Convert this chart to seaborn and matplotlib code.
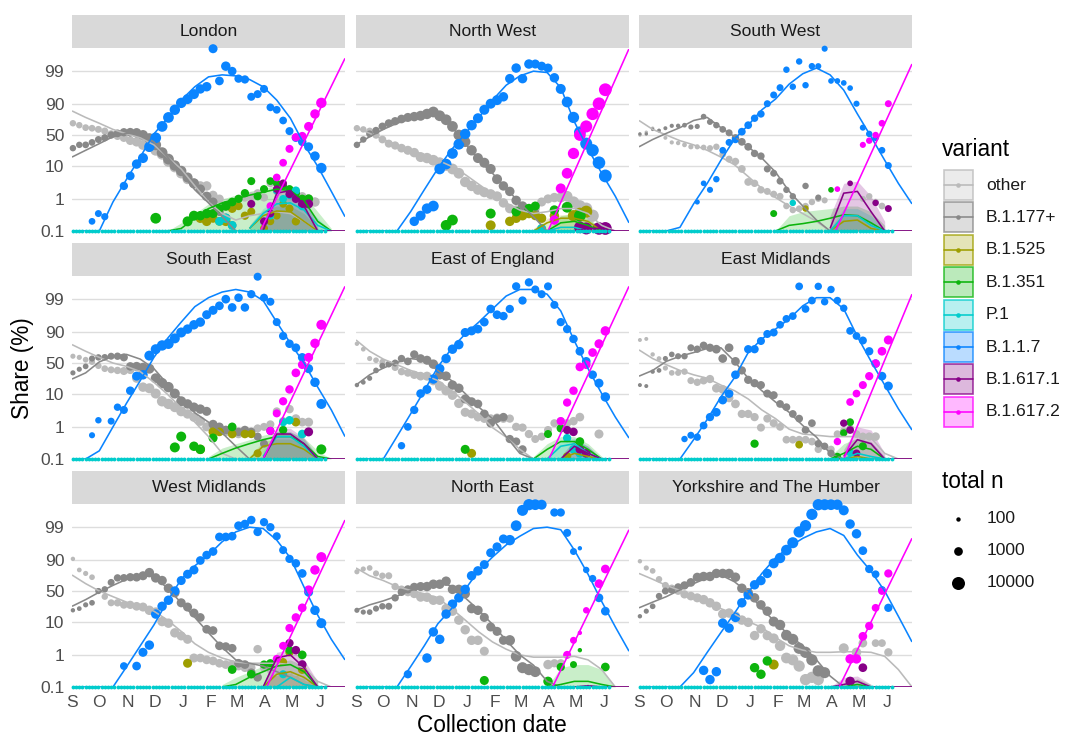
import numpy as np
import pandas as pd
import matplotlib
matplotlib.use("Agg")
import matplotlib.pyplot as plt
from matplotlib.patches import Rectangle
from matplotlib.ticker import NullLocator
import seaborn as sns

sns.set_theme(style="white")
plt.rcParams["font.family"] = ["Liberation Sans", "DejaVu Sans"]

# ---------------- categories / axes ----------------
REGIONS = ["London", "North West", "South West", "South East", "East of England",
           "East Midlands", "West Midlands", "North East", "Yorkshire and The Humber"]
VARIANTS = ["other", "B.1.177+", "B.1.525", "B.1.351", "P.1", "B.1.1.7", "B.1.617.1", "B.1.617.2"]
COLORS = {"other": "#BABABA", "B.1.177+": "#888888", "B.1.525": "#9E9E00", "B.1.351": "#0CB40C",
          "P.1": "#00CCCC", "B.1.1.7": "#0A84FF", "B.1.617.1": "#870087", "B.1.617.2": "#FF00FF"}
MONTH_TICKS = pd.date_range("2020-09-01", "2021-06-01", freq="MS")
MONTH_LABELS = ["S", "O", "N", "D", "J", "F", "M", "A", "M", "J"]
Y_TICKS = [0.1, 1, 10, 50, 90, 99]
Y_LABELS = ["0.1", "1", "10", "50", "90", "99"]
WEEKS = pd.date_range("2020-09-02", periods=40, freq="7D")      # observation weeks
KNOTS = pd.date_range("2020-09-01", periods=21, freq="15D")     # fit curve knots
ZERO_DAYS = pd.date_range("2020-09-02", "2021-06-06", freq="84h")  # zero-count observations
SIZE_BREAKS = [100, 1000, 10000]
N = None

# ---------------- total n per week ----------------
TOTAL_N = {
 "London": [300,300,350,350,400,450,500,600,800,1000, 1500,2000,2500,3000,3000,3000,2500,2500,2000,2000,
            1500,1500,1200,1000,1500,1000,800,800,700,700, 700,600,600,600,700,800,900,1200,1500,2500],
 "North West": [300,300,400,500,600,700,800,1000,1200,1500, 2000,2500,3000,3000,3000,3000,3000,2500,2500,2000,
                2000,2000,2000,1500,1500,1500,1500,1500,1200,1200, 1200,1500,2000,3000,4000,5000,6000,7000,8000,9000],
 "South West": [60,60,60,70,80,90,100,120,150,150, 200,250,300,350,400,500,600,600,500,500,
                400,400,400,300,300,300,300,300,250,250, 200,200,200,200,250,250,300,300,350,400],
 "South East": [150,150,200,250,300,350,400,500,700,900, 1200,1500,2000,2000,2500,2500,2000,2000,1500,1500,
                1500,1200,1200,1000,1000,1000,900,900,800,700, 700,700,700,800,900,1000,1000,1200,1500,2000],
 "East of England": [100,120,150,200,250,300,400,500,600,800, 1000,1200,1500,1500,1500,1500,1500,1200,1200,1000,
                     1000,1000,1000,900,800,800,800,800,700,700, 700,700,800,800,900,1000,1000,1000,1200,1500],
 "East Midlands": [80,80,100,120,150,200,250,300,400,500, 600,800,1000,1000,1000,1000,800,800,800,700,
                   700,700,600,600,600,600,600,600,500,500, 500,500,500,600,600,700,800,900,1000,1200],
 "West Midlands": [100,120,150,200,250,300,400,500,600,800, 1000,1200,1500,1500,1500,1500,1500,1200,1200,1200,
                   1000,1000,1000,1000,1000,1000,1000,1000,900,900, 800,800,700,700,800,900,1000,1200,1500,2000],
 "North East": [150,150,200,250,300,400,500,600,800,1000, 1200,1500,1500,1500,1500,1500,1500,1500,1500,1500,
                1200,1200,1200,1200,2500,3000,3500,4000,3000,2000, 1500,800,800,700,400,100,300,500,1000,1000],
 "Yorkshire and The Humber": [100,150,200,300,400,500,600,800,1000,1200, 1500,1500,1500,1500,1500,1500,1500,1500,1500,1500,
                              1500,2000,2500,3000,3500,4000,4000,4000,4000,3500, 3000,2500,2000,1500,1500,1000,800,600,600,800],
}

# ---------------- observed shares (%) per week ----------------
PTS_OTHER = {
 "London": [70,67,63,62,60,57,52,48,45,40, 38,33,30,25,20,13,9,6,4,3, 2.5,2.5,1.3,1.0,0.6,0.7,1.0,1.1,1.2,1.5, 1.1,3,1.7,1.5,1.3,1.0,1.2,1.0,0.8,N],
 "North West": [62,60,57,50,42,35,32,28,25,22, 17,16,14,12,10,8,6,3.3,2.5,1.9, 1.6,1.4,1.2,0.75,0.5,0.45,0.45,0.5,0.5,0.8, 1.0,1.1,1.1,1.2,0.8,0.6,0.5,0.3,N,N],
 "South West": [50,55,62,58,45,37,36,33,30,30, 29,28,30,20,15,13,8,3.3,3,1.9, 1.7,1.4,1.2,0.6,0.45,0.5,0.6,0.8,1.0,0.9, N,N,N,N,N,1.0,1.2,0.8,0.6,N],
 "South East": [62,60,56,52,45,40,38,37,36,38, 25,15,14,10,6,5,4,3,2.5,2, 1.5,1.0,1.0,0.8,0.7,0.7,0.6,0.7,0.7,0.9, 1.0,1.2,3,1.5,3.5,1.8,1.4,1.4,N,N],
 "East of England": [80,73,58,55,52,48,42,35,33,30, 28,28,22,16,12,9,5.2,2.8,2.5,2.0, 1.8,1.8,1.9,1.8,1.8,1.0,0.95,0.6,0.42,0.5, 0.8,1.3,1.5,1.3,1.5,2.0,N,N,0.6,N],
 "East Midlands": [84,85,65,58,41,33,33,35,22,20, 22,24,14,13,7.5,5,2.5,2.5,2,0.95, 1.8,1.3,1.0,0.4,0.4,0.4,0.4,0.35,0.2,N, 0.2,0.6,0.75,0.9,0.6,0.5,0.5,0.5,N,N],
 "West Midlands": [91,82,78,73,50,40,30,30,27,27, 25,24,20,18,10,9,4.7,3.8,3,0.8, 0.8,0.7,0.65,0.55,0.5,0.5,0.45,0.4,0.4,1.5, 0.4,0.35,0.3,0.3,0.35,0.3,0.25,0.2,N,N],
 "North East": [80,83,84,78,75,75,58,53,48,45, 39,39,34,34,22,19,11,5.8,2.8,2.8, 1.3,N,N,N,N,N,N,N,N,N, 0.5,0.55,0.55,N,N,N,N,N,N,N],
 "Yorkshire and The Humber": [89.5,84,81,70,60,55,50,44,41,38, 35,30,25,16,17,14,11,9.5,3.9,6.2, 3.9,3.2,1.9,0.8,0.7,0.45,0.17,0.2,0.17,N, N,N,1.6,N,1.2,2.3,N,2.3,2.3,1.2],
}
PTS_B1177 = {
 "London": [28,33,33,37,42,45,50,53,55,55, 54,50,44,33,22,15,10,7,4.5,3, 2,1.2,0.8,0.4,0.25,0.15,N,N,N,N, N,N,N,N,N,N,N,N,N,N],
 "North West": [33,42,52,58,65,70,73,76,78,79, 80,82,84,80,75,65,50,38,25,16, 12,8,4,2.5,1.7,0.9,0.6,0.45,0.35,0.25, N,N,N,N,N,N,N,N,N,N],
 "South West": [52,52,60,58,62,66,66,67,64,65, 79,72,67,60,54,45,38,30,21,18, 8,6,3.5,1.9,1.2,N,2.5,N,1.1,N, N,N,N,N,N,N,N,N,N,N],
 "South East": [33,39,44,58,60,60,62,62,60,44, 44,42,40,25,19,15,10,6,5,4, 3.5,3,1.2,1.0,0.8,0.8,0.7,0.8,0.7,0.5, 0.3,N,N,N,N,N,N,N,N,N],
 "East of England": [17,20,25,37,45,48,50,58,53,65, 58,55,48,30,28,17,14,7,5.8,5, 2.5,1.3,1.8,2,0.42,0.35,0.2,N,N,N, N,N,N,N,N,N,N,N,N,N],
 "East Midlands": [17,16,35,37,58,65,62,62,75,73, 78,75,73,58,75,53,37,23,19,17, 10,9,5,4,2.5,1.8,0.8,1.3,0.3,0.25, 0.15,N,N,N,N,N,N,N,N,N],
 "West Midlands": [20,22,27,30,50,53,65,72,72,73, 73,75,79,72,68,55,47,30,24,17, 13,6,5.5,1.9,1.8,1.6,0.55,0.5,0.28,0.2, N,N,N,N,N,N,N,N,N,N],
 "North East": [20,18,18,22,25,25,38,48,53,57, 58,58,62,62,67,53,53,45,22,20, 13,7,5.2,2.8,2.8,0.9,0.4,0.35,0.3,N, N,N,N,N,N,N,N,N,N,N],
 "Yorkshire and The Humber": [14,19,25,41,50,52,57,60,65,73, 74,74,78,78,78,73,55,47,38,27, 19,10,8,4,3,1.6,1.2,0.7,0.32,0.28, N,N,N,N,N,N,N,N,N,N],
}
PTS_B117 = {
 "London": [N,N,N,0.2,0.35,0.28,N,N,2.5,5, 11,16,30,45,65,78,86,91,93,95, 96.5,97,99.85,98,99.3,99,98.3,98.2,94,95, 96.5,88,86,74,57,45,38,30,18,8.5],
 "North West": [N,N,N,N,N,N,N,N,N,0.2, 0.3,0.5,0.6,8,11,21,34,52,67,77, 86,90.5,92.5,94,98.3,99.2,98.3,99.4,99.4,99.3, 99.2,98.4,96.5,91.5,78,55,35,25,12,5],
 "South West": [N,N,N,N,N,N,N,N,N,0.8, 3,1.9,4,25,37,42,56,67,77,82, 90.5,94.7,96.8,99.1,97,99.5,97.3,99.3,99.3,99.85, 98,98,97.7,96.7,90.5,63,52,45,25,10],
 "South East": [N,N,N,0.55,1.6,N,1.5,4,3.3,12, 28,30,63,73,78,80,85.5,90,92,94, 95,97,97.8,98.4,99,98.2,99.1,98.2,99.3,99.85, 99.1,98.8,95,87.5,80,75,60,40,20,5],
 "East of England": [N,N,N,N,N,N,N,0.26,1.0,3.3, 10,13,24,40,58,73,79,90,91,92, 95,98,97,96.7,98,99.6,98.9,99.7,99.5,99.3, 99.6,98.5,95,92,85,70,53,30,19,8],
 "East Midlands": [N,N,N,N,N,N,N,0.42,0.55,0.48, 1.1,2,2.8,6.5,10,30,N,73,73,83, 89,90,94,96,96.7,99.6,98,98.9,99.6,98.8, 99.5,98.9,98.1,91,87.5,83.5,70,49,28,16],
 "West Midlands": [N,N,N,N,N,N,N,N,0.45,N, 0.45,1.2,2,16,25,34,50,68,77,82, 90,93,94.5,98,98,98.1,99.1,99.2,99.4,98.6, 99.3,99,98.1,95,91,88,78,48,20,9],
 "North East": [N,N,N,N,N,N,N,N,0.25,N, N,0.8,5,3,16,28,38,53,75,81, 87,94,96,97.7,97.5,99.1,99.7,99.85,99.85,99.85, N,99.65,99.65,98.5,94.5,95.6,82,71,38,19],
 "Yorkshire and The Humber": [N,N,N,N,N,N,N,N,N,N, 0.33,0.17,0.3,9,6.5,13,30,43,61,68, 78,88,91.5,95,97,98.6,99.1,99.6,99.85,99.85, 99.85,99.85,99.7,99.2,98.4,94.8,83,77,52,23],
}
# sparse observations {week index: share %}
PTS_B6172 = {
 "London": {31: 0.6, 32: 4.5, 33: 12, 34: 27, 35: 46, 36: 48, 37: 65, 38: 82, 39: 91},
 "North West": {31: 0.22, 32: 2.1, 33: 6, 34: 21, 35: 50, 36: 65, 37: 82, 38: 90.5, 39: 96.3},
 "South West": {31: 2, 35: 33, 36: 40, 37: 50, 38: 70, 39: 90.5},
 "South East": {31: 0.75, 32: 2.6, 33: 6, 34: 13, 35: 33, 36: 47, 37: 60, 38: 80.5, 39: 94},
 "East of England": {32: 1.5, 33: 5.5, 34: 12, 35: 43, 36: 47, 37: 68, 38: 80, 39: 91},
 "East Midlands": {31: 0.35, 33: 5.7, 34: 10, 35: 17, 36: 28, 37: 49, 38: 70, 39: 84},
 "West Midlands": {32: 0.75, 33: 1.9, 34: 6.5, 35: 13, 36: 23, 37: 52, 38: 82, 39: 92},
 "North East": {33: 1.0, 34: 2.8, 35: 4.7, 36: 20, 38: 63, 39: 83},
 "Yorkshire and The Humber": {33: 0.75, 34: 0.75, 35: 3.7, 36: 7.5, 37: 23, 38: 50, 39: 78},
}
PTS_MINOR = {
 "London": {"B.1.525": {20:0.25, 21:0.2, 22:0.25, 23:0.2, 24:0.2, 25:0.5, 26:0.6, 27:0.3, 28:0.4, 30:0.12, 31:0.2, 32:0.3, 33:0.7, 34:0.5, 35:0.2},
            "B.1.351": {13:0.25, 18:0.2, 19:0.3, 20:0.3, 21:0.35, 22:0.35, 23:0.5, 24:0.6, 25:0.8, 26:1.0, 27:1.5, 28:3.5, 29:1.2, 30:2, 31:3.5, 32:3, 33:2.5, 34:2, 35:1.5, 36:1.0, 37:1.0},
            "P.1": {23:0.2, 24:0.25, 25:0.15, 31:0.3, 32:1.8, 33:1.0, 34:1.3, 35:1.8, 36:0.6},
            "B.1.617.1": {28:0.7, 30:0.2, 31:0.35, 32:2, 33:3, 34:1.4, 35:1.0, 36:0.7, 37:0.7}},
 "North West": {"B.1.525": {21:0.15, 24:0.2, 25:0.25, 26:0.3, 27:0.35, 28:0.3, 29:0.25, 31:0.3, 34:0.3, 35:0.35, 36:0.4},
                "B.1.351": {14:0.15, 15:0.22, 21:0.35, 25:0.4, 27:0.5, 28:0.6, 31:0.45, 33:0.55, 35:0.3},
                "P.1": {29:0.12},
                "B.1.617.1": {35:0.13, 36:0.12, 38:0.12, 39:0.12}},
 "South West": {"B.1.525": {26:0.5}, "B.1.351": {21:0.35, 30:1.9}, "P.1": {24:0.75},
                "B.1.617.1": {33:3, 37:0.75, 39:0.5}},
 "South East": {"B.1.525": {20:0.2, 22:0.7, 23:0.7, 25:0.6, 27:0.6, 28:0.6, 29:0.15, 35:1.4},
                "B.1.351": {16:0.23, 17:0.5, 19:0.25, 20:0.2, 22:0.45, 25:1.0, 33:0.8, 39:0.2},
                "P.1": {33:1.4, 34:1.6, 36:0.6},
                "B.1.617.1": {31:0.75, 37:0.7}},
 "East of England": {"B.1.525": {18:0.15, 33:0.12}, "B.1.351": {17:0.2, 30:0.6, 32:0.9, 35:0.35},
                     "P.1": {33:0.45, 34:0.2, 35:0.15, 36:0.15},
                     "B.1.617.1": {33:0.8, 34:0.7, 35:0.2, 36:0.15}},
 "East Midlands": {"B.1.525": {25:0.28}, "B.1.351": {18:0.3, 31:0.12, 32:0.65, 33:1.4, 35:0.25},
                   "P.1": {33:0.16}, "B.1.617.1": {32:1.3, 33:0.8, 34:0.15}},
 "West Midlands": {"B.1.525": {18:0.55, 33:0.6, 34:1.2, 36:0.35},
                   "B.1.351": {25:0.35, 28:0.25, 30:0.5, 31:0.55, 34:1.4, 36:1.0},
                   "P.1": {33:0.25}, "B.1.617.1": {34:2.3, 35:1.4, 36:0.5}},
 "North East": {"B.1.351": {20:0.16, 30:0.15, 32:0.42, 34:0.5, 35:1.4, 39:0.42}},
 "Yorkshire and The Humber": {"B.1.525": {21:0.5}, "B.1.351": {18:0.4, 19:0.25, 20:0.65},
                              "B.1.617.1": {33:0.15, 35:0.4}},
}

# ---------------- fitted shares (%) at the 21 knots ----------------
FIT_OTHER = {
 "London": [85,78,70,60,52,45,33,17,8,2.5,0.8,0.35,0.22,0.3,0.35,0.4,0.35,0.2,0.1,0.1,0.1],
 "North West": [63,53,42,33,25,19.5,14,9.5,5.5,2.8,1.4,0.75,0.45,0.35,0.4,0.5,0.5,0.35,0.15,0.1,0.1],
 "South West": [74,60,50,40,33,25,17,10.5,4.8,2.1,1.1,0.6,0.35,0.2,0.1,0.1,0.1,0.1,0.1,0.1,0.1],
 "South East": [79,70,60,50,44,35,20,9.5,3.8,1.4,0.5,0.15,0.1,0.1,0.1,0.1,0.1,0.1,0.1,0.1,0.1],
 "East of England": [84,70,57,47,37,30,22,12,5.7,2.5,0.95,0.48,0.2,0.1,0.1,0.1,0.1,0.1,0.1,0.1,0.1],
 "East Midlands": [72,58,47,37,30,25,17,12,7,3.3,1.8,0.85,0.6,0.55,0.5,0.5,0.5,0.45,0.15,0.1,0.1],
 "West Midlands": [76,63,50,40,31,25,19,11,5.2,2.2,1.2,0.8,0.6,0.55,0.55,0.55,0.5,0.4,0.15,0.1,0.1],
 "North East": [84,75,68,58,51,45,38,22,11,5,2.5,1.5,1.0,0.85,0.85,0.85,0.9,0.7,0.35,0.1,0.1],
 "Yorkshire and The Humber": [78,70,60,51,41,31,22,16,10,6.8,3.4,1.9,1.4,1.2,1.2,1.25,1.25,1.2,0.9,0.35,0.1],
}
FIT_B1177 = {
 "London": [17,25,35,47,53,53,38,17,6,1.9,0.75,0.28,0.1,0.1,0.1,0.1,0.1,0.1,0.1,0.1,0.1],
 "North West": [33,47,60,70,76,80,82,65,35,14,6,2.1,0.75,0.28,0.1,0.1,0.1,0.1,0.1,0.1,0.1],
 "South West": [30,42,53,63,74,78,63,47,30,16,6.5,1.7,0.6,0.22,0.1,0.1,0.1,0.1,0.1,0.1,0.1],
 "South East": [24,33,52,62,65,57,40,18,7,2.7,1.4,0.65,0.25,0.1,0.1,0.1,0.1,0.1,0.1,0.1,0.1],
 "East of England": [17,30,41,51,58,55,37,22,10,4,1.8,0.5,0.15,0.1,0.1,0.1,0.1,0.1,0.1,0.1,0.1],
 "East Midlands": [28,37,53,62,68,74,75,53,25,12,5.7,2.8,1.1,0.48,0.15,0.1,0.1,0.1,0.1,0.1,0.1],
 "West Midlands": [25,35,48,60,70,75,74,55,30,13,4.7,1.7,0.7,0.55,0.45,0.3,0.2,0.12,0.1,0.1,0.1],
 "North East": [20,27,33,41,51,57,65,59,38,20,8.3,2.8,1.0,0.48,0.15,0.1,0.1,0.1,0.1,0.1,0.1],
 "Yorkshire and The Humber": [23,31,40,52,63,72,76,66,47,22,9.5,4,1.9,0.7,0.22,0.1,0.1,0.1,0.1,0.1,0.1],
}
FIT_B117 = {
 "London": [0.1,0.1,0.1,0.8,4,17,52,77,92.5,97,98.5,98.7,98.6,98.2,97,92.5,77,34,9.5,1.7,0.28],
 "North West": [0.1,0.1,0.1,0.1,0.4,1.9,8.3,26,52,78,92.5,97.3,98.6,99,98.9,96.8,72,27,6,1.2,0.18],
 "South West": [0.1,0.1,0.1,0.13,0.7,3,14,43,67,86,93,97.5,98.8,99.2,98.7,96.2,82,47,14,3,0.7],
 "South East": [0.1,0.1,0.18,1,5.3,22,60,85.5,95,98.3,99.1,99.4,99.5,99.4,98.9,95,80.5,50,15,3.3,0.5],
 "East of England": [0.1,0.1,0.1,0.5,2.5,12,43,74,89,95,98,99.2,99.5,99.5,99.3,97.7,83,40,10,2,0.45],
 "East Midlands": [0.1,0.1,0.1,0.1,0.4,1.7,8,26,68,85,92,96,98.4,99.1,99.1,98,87,53,17,3.6,0.8],
 "West Midlands": [0.1,0.1,0.1,0.1,0.43,1.9,8,33,70,86,93,97.2,98.6,99,98.9,97.5,91.5,57,15,3,0.7],
 "North East": [0.1,0.1,0.1,0.1,0.43,1.9,8.7,22,53,81.5,92,96.5,98.1,98.9,99,98.8,95,77,32,7,1.3],
 "Yorkshire and The Humber": [0.1,0.1,0.1,0.1,0.28,1.2,4.8,17,47,78,91.5,96,97.8,98.6,98.9,98.2,93,80.5,50,14,2.5],
}
# B.1.617.2 fit: (date where it leaves 0.1 %, share % at right edge)
FIT_B6172 = {
 "London": ("2021-03-27", 99.6), "North West": ("2021-03-31", 99.8),
 "South West": ("2021-04-05", 99.4), "South East": ("2021-03-30", 99.6),
 "East of England": ("2021-04-01", 99.6), "East Midlands": ("2021-04-14", 99.3),
 "West Midlands": ("2021-04-03", 99.4), "North East": ("2021-04-05", 98.8),
 "Yorkshire and The Humber": ("2021-04-09", 97.8),
}
# minor variant fits {knot index: share %} and upper CI bounds
FIT_MINOR = {
 "London": {"B.1.525": {13:0.12, 14:0.3, 15:0.42, 16:0.4, 17:0.2, 18:0.1},
            "B.1.351": {7:0.1, 8:0.12, 9:0.25, 10:0.5, 11:0.75, 12:1.0, 13:1.3, 14:1.6, 15:2.0, 16:1.8, 17:0.9, 18:0.2, 19:0.1},
            "P.1": {13:0.12, 14:0.35, 15:0.7, 16:0.75, 17:0.45, 18:0.15, 19:0.1},
            "B.1.617.1": {14:0.1, 15:1.5, 16:1.8, 17:0.6, 18:0.1, 19:0.1, 20:0.1}},
 "North West": {"B.1.525": {13:0.1, 14:0.18, 15:0.25, 16:0.25, 17:0.2, 18:0.1},
                "B.1.351": {14:0.1, 15:0.18, 16:0.2, 17:0.15, 18:0.1},
                "P.1": {14:0.1, 15:0.13, 16:0.13, 17:0.1},
                "B.1.617.1": {16:0.1, 17:0.12, 18:0.12, 19:0.1, 20:0.1}},
 "South West": {"B.1.525": {14:0.1, 15:0.2, 16:0.22, 17:0.12, 18:0.1},
                "B.1.351": {10:0.1, 11:0.15, 12:0.17, 13:0.2, 14:0.25, 15:0.32, 16:0.3, 17:0.18, 18:0.1},
                "P.1": {14:0.1, 15:0.3, 16:0.3, 17:0.15, 18:0.1},
                "B.1.617.1": {14:0.12, 15:1.5, 16:1.7, 17:0.4, 18:0.1, 19:0.1, 20:0.1}},
 "South East": {"B.1.525": {13:0.1, 14:0.25, 15:0.3, 16:0.3, 17:0.2, 18:0.1},
                "B.1.351": {10:0.1, 11:0.15, 12:0.22, 13:0.3, 14:0.4, 15:0.5, 16:0.5, 17:0.3, 18:0.12, 19:0.1},
                "P.1": {14:0.12, 15:0.5, 16:0.5, 17:0.25, 18:0.1},
                "B.1.617.1": {14:0.1, 15:0.6, 16:0.6, 17:0.3, 18:0.1, 19:0.1, 20:0.1}},
 "East of England": {"B.1.525": {15:0.1, 16:0.15, 17:0.12, 18:0.1},
                     "B.1.351": {13:0.1, 14:0.2, 15:0.35, 16:0.35, 17:0.2, 18:0.1},
                     "P.1": {14:0.1, 15:0.25, 16:0.3, 17:0.15, 18:0.1},
                     "B.1.617.1": {15:0.1, 16:0.25, 17:0.15, 18:0.1, 19:0.1, 20:0.1}},
 "East Midlands": {"B.1.525": {15:0.1, 16:0.12, 17:0.1},
                   "B.1.351": {14:0.1, 15:0.15, 16:0.25, 17:0.2, 18:0.1},
                   "P.1": {15:0.1, 16:0.15, 17:0.12, 18:0.1},
                   "B.1.617.1": {15:0.12, 16:0.4, 17:0.3, 18:0.1, 19:0.1, 20:0.1}},
 "West Midlands": {"B.1.525": {14:0.1, 15:0.25, 16:0.3, 17:0.2, 18:0.1},
                   "B.1.351": {11:0.1, 12:0.12, 13:0.2, 14:0.3, 15:0.45, 16:0.5, 17:0.3, 18:0.1},
                   "P.1": {15:0.1, 16:0.2, 17:0.12, 18:0.1},
                   "B.1.617.1": {14:0.1, 15:0.8, 16:1.0, 17:0.4, 18:0.1, 19:0.1, 20:0.1}},
 "North East": {"B.1.351": {14:0.1, 15:0.12, 16:0.15, 17:0.15, 18:0.12, 19:0.1},
                "B.1.617.1": {16:0.1, 17:0.11, 18:0.1, 19:0.1, 20:0.1}},
 "Yorkshire and The Humber": {"B.1.351": {15:0.1, 16:0.12, 17:0.1},
                              "B.1.617.1": {14:0.1, 15:0.12, 16:0.15, 17:0.1, 18:0.1, 19:0.1, 20:0.1}},
}
FIT_MINOR_UPPER = {
 "London": {"B.1.525": {13:0.15, 14:0.45, 15:0.6, 16:0.6, 17:0.35, 18:0.12},
            "B.1.351": {7:0.1, 8:0.18, 9:0.35, 10:0.7, 11:1.0, 12:1.3, 13:1.7, 14:2.1, 15:2.6, 16:2.4, 17:1.3, 18:0.4, 19:0.12},
            "P.1": {13:0.15, 14:0.5, 15:0.95, 16:1.0, 17:0.7, 18:0.25, 19:0.1},
            "B.1.617.1": {14:0.12, 15:2.2, 16:2.6, 17:1.0, 18:0.15}},
 "North West": {"B.1.525": {13:0.12, 14:0.25, 15:0.32, 16:0.32, 17:0.25, 18:0.12},
                "B.1.351": {14:0.12, 15:0.3, 16:0.35, 17:0.25, 18:0.12}},
 "South West": {"B.1.525": {14:0.12, 15:0.35, 16:0.35, 17:0.2, 18:0.1},
                "B.1.351": {10:0.1, 11:0.3, 12:0.4, 13:0.45, 14:0.5, 15:0.6, 16:0.6, 17:0.4, 18:0.15},
                "P.1": {14:0.12, 15:0.5, 16:0.5, 17:0.3, 18:0.12},
                "B.1.617.1": {14:0.3, 15:3, 16:3.5, 17:1.2, 18:0.2}},
 "South East": {"B.1.525": {13:0.12, 14:0.35, 15:0.42, 16:0.42, 17:0.3, 18:0.12},
                "B.1.351": {10:0.12, 11:0.22, 12:0.3, 13:0.4, 14:0.55, 15:0.7, 16:0.7, 17:0.45, 18:0.18, 19:0.1},
                "P.1": {14:0.18, 15:0.7, 16:0.7, 17:0.4, 18:0.12},
                "B.1.617.1": {14:0.12, 15:0.9, 16:0.9, 17:0.45, 18:0.12}},
 "East of England": {"B.1.351": {13:0.12, 14:0.3, 15:0.5, 16:0.5, 17:0.3, 18:0.12},
                     "P.1": {14:0.12, 15:0.35, 16:0.45, 17:0.25, 18:0.1},
                     "B.1.617.1": {15:0.12, 16:0.4, 17:0.25, 18:0.1}},
 "East Midlands": {"B.1.351": {14:0.12, 15:0.3, 16:0.45, 17:0.35, 18:0.12},
                   "B.1.617.1": {15:0.2, 16:1.0, 17:0.8, 18:0.15}},
 "West Midlands": {"B.1.525": {14:0.12, 15:0.35, 16:0.45, 17:0.3, 18:0.12},
                   "B.1.351": {11:0.12, 12:0.2, 13:0.3, 14:0.45, 15:0.6, 16:0.7, 17:0.45, 18:0.15},
                   "B.1.617.1": {14:0.12, 15:1.2, 16:1.5, 17:0.7, 18:0.15}},
 "North East": {"B.1.351": {14:0.1, 15:0.4, 16:0.5, 17:0.5, 18:0.35, 19:0.1}},
 "Yorkshire and The Humber": {"B.1.351": {15:0.12, 16:0.18, 17:0.12},
                              "B.1.617.1": {14:0.1, 15:0.2, 16:0.22, 17:0.12}},
}

for r in REGIONS:
    for tab in (TOTAL_N, PTS_OTHER, PTS_B1177, PTS_B117):
        assert len(tab[r]) == 40, r
    for tab in (FIT_OTHER, FIT_B1177, FIT_B117):
        assert len(tab[r]) == 21, r

# ---------------- layout / style ----------------
DPI = 100
W, H = 1066, 736
COL_X = [72, 356, 639]
PANEL_W = 273
ROW_BOTTOM = [231, 459, 687]
PANEL_H = 182.3
STRIP_H = 32.5
YMIN, YMAX = 0.001, 0.998
XMIN, XMAX = pd.Timestamp("2020-09-01"), pd.Timestamp("2021-06-28")
TXT = 12.6
TITLE = 16.3


def dot_area(n):
    """size scale: point diameter grows with log10(total n)"""
    d_px = np.clip(4.4 + 4.3 * np.log10(np.asarray(n, float) / 100.0), 2.8, 15.0)
    return (d_px * 72.0 / DPI) ** 2


AMIN, AMAX = float(dot_area(1)), float(dot_area(1e9))


def share(v):
    return np.clip(np.asarray(v, float) / 100.0, YMIN, YMAX)


# long table of observations
rows = []
for r in REGIONS:
    for var, tab in (("other", PTS_OTHER), ("B.1.177+", PTS_B1177), ("B.1.1.7", PTS_B117)):
        for d, v, n in zip(WEEKS, tab[r], TOTAL_N[r]):
            if v is not None:
                rows.append((r, var, d, v, n))
    for var, d_ in PTS_MINOR[r].items():
        for i, v in d_.items():
            rows.append((r, var, WEEKS[i], v, TOTAL_N[r][i]))
    for i, v in PTS_B6172[r].items():
        rows.append((r, "B.1.617.2", WEEKS[i], v, TOTAL_N[r][i]))
obs = pd.DataFrame(rows, columns=["region", "variant", "date", "pct", "n"])
obs["share"] = share(obs["pct"])
obs["area"] = dot_area(obs["n"])
obs["rank"] = obs["variant"].map({v: i for i, v in enumerate(VARIANTS)})
obs = obs.sort_values(["rank", "date"], kind="stable")

fig = plt.figure(figsize=(W / DPI, H / DPI), dpi=DPI)
fig.patch.set_facecolor("white")
ov = fig.add_axes([0, 0, 1, 1])
ov.set_xlim(0, W)
ov.set_ylim(H, 0)
ov.axis("off")
ov.set_zorder(0)

for idx, r in enumerate(REGIONS):
    row, col = divmod(idx, 3)
    x0 = COL_X[col]
    yb = ROW_BOTTOM[row]
    ax = fig.add_axes([x0 / W, (H - yb) / H, PANEL_W / W, PANEL_H / H])
    ax.set_zorder(1)
    ax.set_facecolor("white")
    ax.set_yscale("logit")
    ax.set_ylim(YMIN, YMAX)
    ax.set_xlim(XMIN, XMAX)

    # strip
    top = yb - PANEL_H
    ov.add_patch(Rectangle((x0, top - 1.2 - STRIP_H), PANEL_W, STRIP_H, facecolor="#D9D9D9", edgecolor="none"))
    ov.text(x0 + PANEL_W / 2, top - 1.2 - STRIP_H / 2, r, ha="center", va="center",
            fontsize=TXT, color="#1A1A1A")

    # ribbons
    for var in VARIANTS:
        up = FIT_MINOR_UPPER[r].get(var)
        if up:
            ks = sorted(up)
            ax.fill_between(KNOTS[ks], YMIN, share([up[k] for k in ks]), color=COLORS[var],
                            alpha=0.22, lw=0, zorder=2)

    # observations
    sub = obs[obs["region"] == r]
    sns.scatterplot(data=sub, x="date", y="share", hue="variant", hue_order=VARIANTS, palette=COLORS,
                    size="area", sizes=(AMIN, AMAX), size_norm=(AMIN, AMAX), legend=False,
                    linewidth=0, edgecolor="none", ax=ax, zorder=3, clip_on=False)

    # fitted curves
    for var in VARIANTS:
        if var == "other":
            xs, ys = KNOTS, FIT_OTHER[r]
        elif var == "B.1.177+":
            xs, ys = KNOTS, FIT_B1177[r]
        elif var == "B.1.1.7":
            xs, ys = KNOTS, FIT_B117[r]
        elif var == "B.1.617.2":
            start, end = FIT_B6172[r]
            xs, ys = pd.DatetimeIndex([pd.Timestamp(start), KNOTS[-1]]), [0.1, end]
        else:
            fd = FIT_MINOR[r].get(var)
            if not fd:
                continue
            ks = sorted(fd)
            xs, ys = KNOTS[ks], [fd[k] for k in ks]
        ax.plot(xs, share(ys), color=COLORS[var], lw=1.15, zorder=4, solid_capstyle="butt")

    # zero-count observations along the floor
    ax.scatter(ZERO_DAYS, np.full(len(ZERO_DAYS), YMIN), s=float(dot_area(75)),
               color=COLORS["P.1"], linewidths=0, zorder=5, clip_on=False)

    # axes styling
    ax.set_xlabel("")
    ax.set_ylabel("")
    for s in ax.spines.values():
        s.set_visible(False)
    ax.set_yticks([t / 100 for t in Y_TICKS])
    ax.set_yticklabels(Y_LABELS)
    ax.yaxis.set_minor_locator(NullLocator())
    ax.set_xticks(MONTH_TICKS)
    ax.set_xticklabels(MONTH_LABELS)
    ax.xaxis.set_minor_locator(NullLocator())
    ax.grid(axis="y", color="#DDDDDD", lw=1.0, zorder=0)
    ax.grid(axis="x", visible=False)
    ax.set_axisbelow(True)
    ax.tick_params(axis="both", length=3.5, width=0.9, color="#333333", labelsize=TXT,
                   labelcolor="#4D4D4D", pad=2)
    if col != 0:
        ax.tick_params(axis="y", left=False, labelleft=False)
    if row != 2:
        ax.tick_params(axis="x", bottom=False, labelbottom=False)

# axis titles
ov.text(23, 368, "Share (%)", rotation=90, ha="center", va="center", fontsize=TITLE, color="black")
ov.text(492, 726, "Collection date", ha="center", va="center", fontsize=TITLE, color="black")

# legend: variant
ov.text(942, 149, "variant", ha="left", va="center", fontsize=TITLE, color="black")
for j, var in enumerate(VARIANTS):
    cy = 185 + 32.4 * j
    c = COLORS[var]
    ov.add_patch(Rectangle((943.5, cy - 15), 29.5, 30, facecolor=matplotlib.colors.to_rgba(c, 0.28),
                           edgecolor=matplotlib.colors.to_rgba(c, 0.75), lw=1.2))
    ov.plot([943.5, 973], [cy, cy], color=c, lw=1.15)
    ov.scatter([958.2], [cy], s=float(dot_area(110)), color=c, linewidths=0, zorder=3)
    ov.text(986, cy, var, ha="left", va="center", fontsize=TXT, color="#1A1A1A")

# legend: total n
ov.text(942, 482, "total n", ha="left", va="center", fontsize=TITLE, color="black")
for j, nval in enumerate(SIZE_BREAKS):
    cy = 518.5 + 32.2 * j
    ov.scatter([958.2], [cy], s=float(dot_area(nval)), color="black", linewidths=0)
    ov.text(987, cy, str(nval), ha="left", va="center", fontsize=TXT, color="#1A1A1A")

fig.savefig("out.png", dpi=DPI, facecolor="white")
